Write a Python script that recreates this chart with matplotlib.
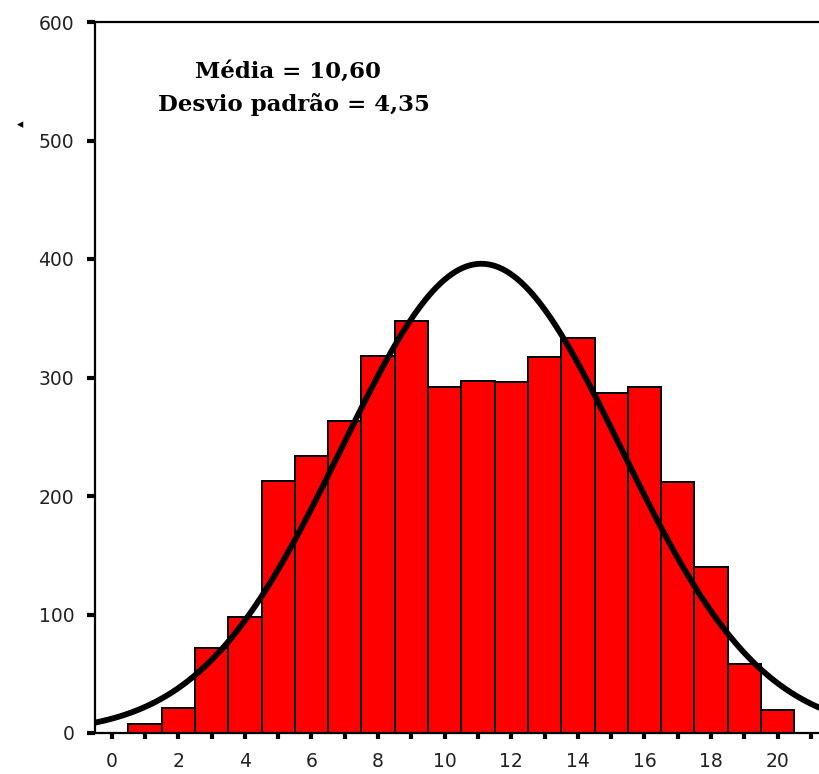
import numpy as np
import matplotlib
matplotlib.use("Agg")
import matplotlib.pyplot as plt

# data
bins = list(range(1, 21))
counts = [8, 21, 72, 98, 213, 234, 263, 318, 348, 292,
          297, 296, 317, 333, 287, 292, 212, 140, 58, 19]
curve_mean = 11.1
curve_sd = 4.2
curve_peak = 396
x_ticks = list(range(0, 22))
x_labels = [str(v) if v % 2 == 0 else "" for v in x_ticks]
y_ticks = [0, 100, 200, 300, 400, 500, 600]
annot_lines = ["Média = 10,60", "Desvio padrão = 4,35"]

fig = plt.figure(figsize=(8.2, 7.74), dpi=100)
ax = fig.add_axes([95 / 820, 41 / 774, 1 - 95 / 820, 711 / 774])

ax.bar(bins, counts, width=1.0, color="#ff0000", edgecolor="black",
       linewidth=1.4, zorder=2)

xs = np.linspace(-0.5, 21.5, 400)
ys = curve_peak * np.exp(-0.5 * ((xs - curve_mean) / curve_sd) ** 2)
ax.plot(xs, ys, color="black", linewidth=4.2, zorder=3, solid_capstyle="round")

ax.set_xlim(-0.5, 21.27)
ax.set_ylim(0, 600)

ax.set_xticks(x_ticks)
ax.set_xticklabels(x_labels)
ax.set_yticks(y_ticks)

for s in ["left", "bottom", "top"]:
    ax.spines[s].set_linewidth(1.6)
    ax.spines[s].set_color("black")
ax.spines["right"].set_visible(False)

ax.tick_params(axis="x", direction="out", length=4, width=3, pad=10,
               labelsize=13.5, colors="black")
ax.tick_params(axis="y", direction="out", length=6, width=3, pad=9,
               labelsize=13.5, colors="black")
for lab in ax.get_xticklabels() + ax.get_yticklabels():
    lab.set_fontfamily("DejaVu Sans")
    lab.set_color("#222222")

fig.text(288 / 820, 1 - 72 / 774, annot_lines[0], ha="center", va="center",
         fontsize=16.5, fontweight="bold", family="DejaVu Serif")
fig.text(294 / 820, 1 - 105 / 774, annot_lines[1], ha="center", va="center",
         fontsize=16.5, fontweight="bold", family="DejaVu Serif")
fig.text(20 / 820, 1 - 125 / 774, "◂", ha="center", va="center", fontsize=9)

fig.savefig("out.png", dpi=100)
